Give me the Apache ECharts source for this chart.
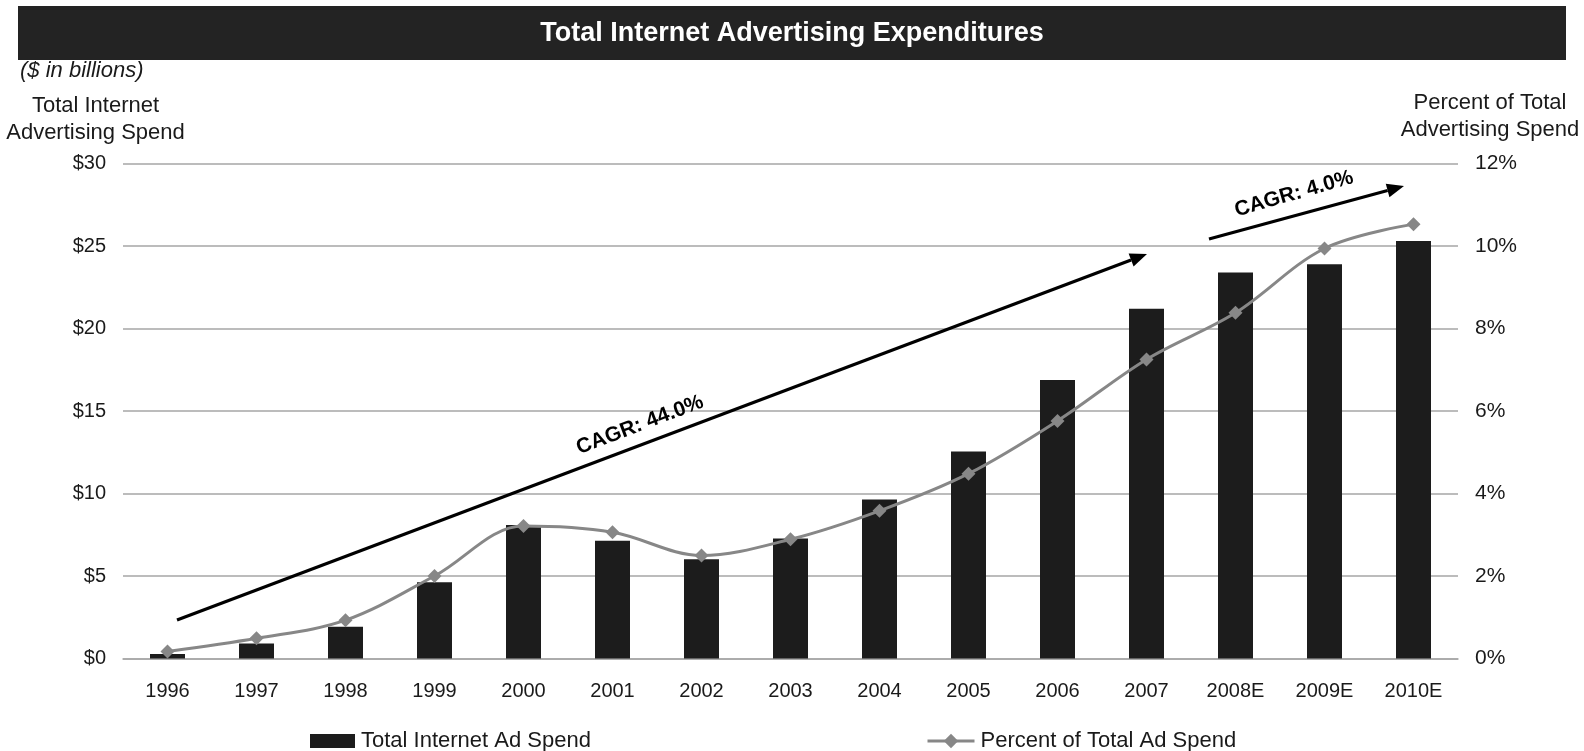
<!DOCTYPE html>
<html>
<head>
<meta charset="utf-8">
<script src="https://cdn.jsdelivr.net/npm/echarts@6/dist/echarts.min.js"></script>
<style>
  html, body { margin: 0; padding: 0; background: #fff; }
  #chart { width: 1584px; height: 751px; }
</style>
</head>
<body>
<div id="chart"></div>
<script>
// Years shown on the category axis
const years = ['1996', '1997', '1998', '1999', '2000', '2001', '2002', '2003',
               '2004', '2005', '2006', '2007', '2008E', '2009E', '2010E'];
// Total internet ad spend, $ billions
const adSpend = [0.27, 0.91, 1.92, 4.62, 8.09, 7.13, 6.01, 7.27,
                 9.63, 12.54, 16.88, 21.2, 23.4, 23.9, 25.3];
// Internet share of total advertising spend, %
const pctOfTotal = [0.17, 0.49, 0.93, 2.0, 3.21, 3.06, 2.5, 2.89,
                    3.58, 4.48, 5.76, 7.25, 8.38, 9.94, 10.53];
// Axis tick values
const leftTicks = [0, 5, 10, 15, 20, 25, 30];
const rightTicks = [0, 2, 4, 6, 8, 10, 12];

const sans = '"Liberation Sans", Arial, sans-serif';

const chart = echarts.init(document.getElementById('chart'), null, { renderer: 'canvas' });

// Arrow: a thick line ending in a filled triangular head
function arrow(x1, y1, x2, y2) {
  const a = Math.atan2(y2 - y1, x2 - x1);
  const L = 17, W = 7;
  const bx = x2 - L * Math.cos(a), by = y2 - L * Math.sin(a);
  const px = -Math.sin(a) * W, py = Math.cos(a) * W;
  return [
    { type: 'line', shape: { x1: x1, y1: y1, x2: bx, y2: by },
      style: { stroke: '#000', lineWidth: 3.2 }, z: 50 },
    { type: 'polygon', shape: { points: [[x2, y2], [bx + px, by + py], [bx - px, by - py]] },
      style: { fill: '#000' }, z: 50 }
  ];
}

function rotatedLabel(text, x, y, deg) {
  return {
    type: 'text', x: x, y: y, rotation: deg * Math.PI / 180, z: 50,
    style: { text: text, fill: '#000', font: 'bold 21px ' + sans,
             align: 'center', verticalAlign: 'middle' }
  };
}

const legendText = { fontFamily: sans, fontSize: 22, color: '#1a1a1a', padding: [0, 0, 0, 1] };

const option = {
  animation: false,
  backgroundColor: '#fff',
  grid: { left: 123, right: 126, top: 163.5, bottom: 92.5, containLabel: false },
  legend: [
    {
      data: [{ name: 'Total Internet Ad Spend', icon: 'rect' }],
      left: 305, top: 725, itemWidth: 45, itemHeight: 14, itemGap: 4,
      textStyle: legendText
    },
    {
      data: [{ name: 'Percent of Total Ad Spend' }],
      left: 921, top: 725, itemWidth: 47, itemHeight: 18, itemGap: 4,
      lineStyle: { width: 3 },
      textStyle: legendText
    }
  ],
  xAxis: {
    type: 'category',
    data: years,
    axisLine: { show: true, lineStyle: { color: '#a6a6a6', width: 1.5 } },
    axisTick: { show: false },
    axisLabel: { fontFamily: sans, fontSize: 20, color: '#1a1a1a', margin: 23 }
  },
  yAxis: [
    {
      type: 'value', min: leftTicks[0], max: leftTicks[leftTicks.length - 1], interval: 5,
      axisLine: { show: false }, axisTick: { show: false },
      splitLine: { lineStyle: { color: '#a6a6a6', width: 1.5 } },
      axisLabel: { fontFamily: sans, fontSize: 20, color: '#1a1a1a', margin: 17,
                   formatter: v => '$' + v }
    },
    {
      type: 'value', min: rightTicks[0], max: rightTicks[rightTicks.length - 1], interval: 2,
      axisLine: { show: false }, axisTick: { show: false },
      splitLine: { show: false },
      axisLabel: { fontFamily: sans, fontSize: 21, color: '#1a1a1a', margin: 17,
                   formatter: v => v + '%' }
    }
  ],
  series: [
    {
      name: 'Total Internet Ad Spend', type: 'bar', data: adSpend, yAxisIndex: 0,
      barWidth: 35, itemStyle: { color: '#1c1c1c' }, z: 2
    },
    {
      name: 'Percent of Total Ad Spend', type: 'line', data: pctOfTotal, yAxisIndex: 1,
      smooth: 0.35, symbol: 'diamond', symbolSize: 14,
      lineStyle: { color: '#878787', width: 3 },
      itemStyle: { color: '#878787' }, z: 5
    }
  ],
  graphic: [
    // Title banner
    { type: 'rect', shape: { x: 18, y: 6, width: 1548, height: 54 },
      style: { fill: '#232323' }, z: 40 },
    { type: 'text', x: 792, y: 34, z: 41,
      style: { text: 'Total Internet Advertising Expenditures', fill: '#fff',
               font: 'bold 27px ' + sans, align: 'center', verticalAlign: 'middle' } },
    { type: 'text', x: 20, y: 71, z: 39,
      style: { text: '($ in billions)', fill: '#1a1a1a', font: 'italic 22px ' + sans,
               align: 'left', verticalAlign: 'middle' } },
    // Axis titles
    { type: 'text', x: 95.5, y: 119, z: 41,
      style: { text: 'Total Internet\nAdvertising Spend', fill: '#1a1a1a', font: '22px ' + sans,
               lineHeight: 27, align: 'center', verticalAlign: 'middle' } },
    { type: 'text', x: 1490, y: 116, z: 41,
      style: { text: 'Percent of Total\nAdvertising Spend', fill: '#1a1a1a', font: '22px ' + sans,
               lineHeight: 27, align: 'center', verticalAlign: 'middle' } },
    // Growth annotations
    ...arrow(177, 620, 1147, 254),
    rotatedLabel('CAGR: 44.0%', 640, 425, 20.7),
    ...arrow(1209, 239, 1404, 186),
    rotatedLabel('CAGR: 4.0%', 1294, 194, 16)
  ]
};

chart.setOption(option);
</script>
</body>
</html>
